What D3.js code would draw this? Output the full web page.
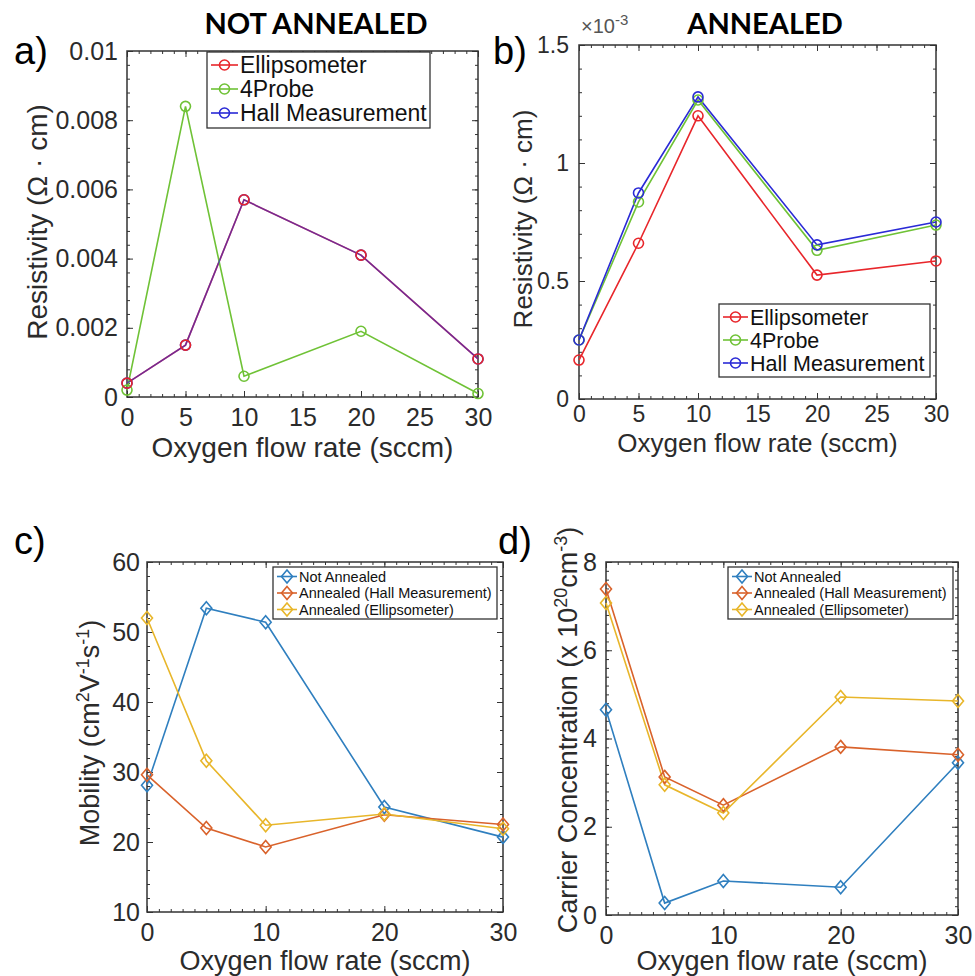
<!DOCTYPE html>
<html>
<head>
  <meta charset="utf-8">
  <script src="https://cdn.jsdelivr.net/npm/d3@7/dist/d3.min.js"></script>
  <style>
    body { margin: 0; background: #fff; }
    text { font-family: "Liberation Sans", Arial, sans-serif; }
    .tick line { stroke: #333; stroke-width: 1; }
    .tick text { fill: #2b2b2b; }
    .domain { display: none; }
    .title { font-family: Lato, "Open Sans", sans-serif; font-weight: bold; font-size: 29px; fill: #000; }
  </style>
</head>
<body>
  <svg id="chart" width="975" height="976"></svg>
  <script>
    // x values shared by all panels
    var flow = [0, 5, 10, 20, 30];

    // a) resistivity, not annealed (ohm cm)
    var resNotEllip = [0.0004, 0.0015, 0.0057, 0.0041, 0.0011];
    var resNotProbe = [0.0002, 0.0084, 0.0006, 0.0019, 0.0001];
    var resNotHall = [0.0004, 0.0015, 0.0057, 0.0041, 0.0011];

    // b) resistivity, annealed (x 10^-3 ohm cm)
    var resAnnEllip = [0.165, 0.66, 1.20, 0.525, 0.585];
    var resAnnProbe = [0.25, 0.835, 1.267, 0.63, 0.737];
    var resAnnHall = [0.25, 0.873, 1.28, 0.653, 0.75];

    // c) mobility (cm2/Vs)
    var mobNot = [28.1, 53.4, 51.4, 25.0, 20.7];
    var mobAnnHall = [29.6, 22.0, 19.3, 23.9, 22.5];
    var mobAnnEllip = [52.0, 31.6, 22.4, 24.0, 21.9];

    // d) carrier concentration (x 10^20 cm-3)
    var carNot = [4.65, 0.27, 0.77, 0.63, 3.45];
    var carAnnHall = [7.39, 3.13, 2.49, 3.81, 3.63];
    var carAnnEllip = [7.07, 2.95, 2.31, 4.94, 4.85];

    var resNames = ['Ellipsometer', '4Probe', 'Hall Measurement'];
    var carNames = ['Not Annealed', 'Annealed (Hall Measurement)', 'Annealed (Ellipsometer)'];

    // tick values / labels
    var xTicksAB = [0, 5, 10, 15, 20, 25, 30];
    var xTicksCD = [0, 10, 20, 30];
    var yTicksA = [0, 0.002, 0.004, 0.006, 0.008, 0.01];
    var yLabelsA = ['0', '0.002', '0.004', '0.006', '0.008', '0.01'];
    var yTicksB = [0, 0.5, 1, 1.5];
    var yLabelsB = ['0', '0.5', '1', '1.5'];
    var yTicksC = [10, 20, 30, 40, 50, 60];
    var yTicksD = [0, 2, 4, 6, 8];

    var rgb3 = ['#e8262b', '#6fc236', '#2a2ad6'];
    var matlab3 = ['#2f7fbf', '#d9622b', '#e8b62a'];

    var svg = d3.select('#chart');

    function diamond(r) {
      return 'M0,' + (-r - 1) + 'L' + r + ',0L0,' + (r + 1) + 'L' + (-r) + ',0Z';
    }

    function drawMarker(sel, kind, color) {
      if (kind == 'o') {
        sel.append('circle').attr('r', 5).attr('fill', 'none')
          .attr('stroke', color).attr('stroke-width', 1.6);
      } else {
        sel.append('path').attr('d', diamond(5.5)).attr('fill', 'none')
          .attr('stroke', color).attr('stroke-width', 1.6);
      }
    }

    function panel(c) {
      var g = svg.append('g');
      var x = d3.scaleLinear().domain([0, 30]).range([c.left, c.right]);
      var y = d3.scaleLinear().domain(c.yDomain).range([c.bottom, c.top]);

      var minorX = d3.range(0, 30.001, 1);
      var minorY = d3.range(c.yDomain[0], c.yDomain[1] + 1e-9, c.yMinor);
      var fs = c.tickFont + 'px';

      // major ticks with labels
      g.append('g').attr('transform', 'translate(0,' + c.bottom + ')')
        .call(d3.axisBottom(x).tickValues(c.xTicks).tickSize(-6).tickPadding(c.xPad).tickFormat(d3.format('d')))
        .selectAll('text').style('font-size', fs);
      g.append('g').attr('transform', 'translate(' + c.left + ',0)')
        .call(d3.axisLeft(y).tickValues(c.yTicks).tickSize(-6).tickPadding(c.yPad)
          .tickFormat(function (d, i) { return c.yLabels ? c.yLabels[i] : d; }))
        .selectAll('text').style('font-size', fs);
      g.append('g').attr('transform', 'translate(0,' + c.top + ')')
        .call(d3.axisTop(x).tickValues(c.xTicks).tickSize(-6).tickFormat(''));
      g.append('g').attr('transform', 'translate(' + c.right + ',0)')
        .call(d3.axisRight(y).tickValues(c.yTicks).tickSize(-6).tickFormat(''));

      // minor ticks
      g.append('g').attr('transform', 'translate(0,' + c.bottom + ')')
        .call(d3.axisBottom(x).tickValues(minorX).tickSize(-3).tickFormat(''));
      g.append('g').attr('transform', 'translate(0,' + c.top + ')')
        .call(d3.axisTop(x).tickValues(minorX).tickSize(-3).tickFormat(''));
      g.append('g').attr('transform', 'translate(' + c.left + ',0)')
        .call(d3.axisLeft(y).tickValues(minorY).tickSize(-3).tickFormat(''));
      g.append('g').attr('transform', 'translate(' + c.right + ',0)')
        .call(d3.axisRight(y).tickValues(minorY).tickSize(-3).tickFormat(''));

      g.append('rect')
        .attr('x', c.left).attr('y', c.top)
        .attr('width', c.right - c.left).attr('height', c.bottom - c.top)
        .attr('fill', 'none').attr('stroke', '#333').attr('stroke-width', 1.5);

      var line = d3.line().x(function (d, i) { return x(flow[i]); }).y(function (d) { return y(d); });

      c.series.forEach(function (s, k) {
        g.append('path').datum(s)
          .attr('d', line).attr('fill', 'none')
          .attr('stroke', c.colors[k]).attr('stroke-width', 1.6)
          .attr('stroke-opacity', c.lineOpacity ? c.lineOpacity[k] : 1);
      });
      c.markerOrder.forEach(function (k) {
        c.series[k].forEach(function (v, i) {
          var m = g.append('g').attr('transform', 'translate(' + x(flow[i]) + ',' + y(v) + ')');
          drawMarker(m, c.marker, c.colors[k]);
        });
      });

      // legend
      var L = c.legend;
      g.append('rect').attr('x', L.x).attr('y', L.y).attr('width', L.w).attr('height', L.h)
        .attr('fill', '#fff').attr('stroke', '#333').attr('stroke-width', 1.3);
      c.names.forEach(function (n, k) {
        var ry = L.y + L.first + k * L.step;
        g.append('line').attr('x1', L.x + 4).attr('x2', L.x + 4 + L.sample)
          .attr('y1', ry).attr('y2', ry).attr('stroke', c.colors[k]).attr('stroke-width', 1.6);
        var m = g.append('g').attr('transform', 'translate(' + (L.x + 4 + L.sample / 2) + ',' + ry + ')');
        drawMarker(m, c.marker, c.colors[k]);
        g.append('text').attr('x', L.x + 6 + L.sample).attr('y', ry)
          .attr('dy', '0.36em').style('font-size', L.font + 'px').attr('fill', '#111').text(n);
      });

      // labels
      g.append('text').attr('x', (c.left + c.right) / 2).attr('y', c.xLabelY)
        .attr('text-anchor', 'middle').style('font-size', c.labelFont + 'px').attr('fill', '#2b2b2b')
        .text('Oxygen flow rate (sccm)');
      var yl = g.append('text')
        .attr('transform', 'translate(' + c.yLabelX + ',' + c.yLabelY + ') rotate(-90)')
        .attr('text-anchor', 'middle').style('font-size', c.labelFont + 'px').attr('fill', '#2b2b2b');
      c.yLabel.forEach(function (p) {
        var t = yl.append('tspan').text(p[0]);
        if (p[1] == 'sup') t.attr('baseline-shift', 'super').style('font-size', '18px');
      });

      svg.append('text').attr('x', c.tagX).attr('y', c.tagY)
        .style('font-size', '38px').attr('fill', '#000').text(c.tag);
    }

    panel({
      left: 127, right: 478, top: 51, bottom: 397,
      yDomain: [0, 0.01], yMinor: 0.0004, xTicks: xTicksAB, yTicks: yTicksA, yLabels: yLabelsA,
      tickFont: 25, xPad: 11, yPad: 9, labelFont: 28,
      series: [resNotEllip, resNotProbe, resNotHall], colors: rgb3, lineOpacity: [1, 1, 0.6],
      marker: 'o', markerOrder: [2, 1, 0], names: resNames,
      legend: { x: 207, y: 52, w: 223, h: 76, first: 13, step: 24, sample: 27, font: 23 },
      xLabelY: 457, yLabelX: 47, yLabelY: 222,
      yLabel: [['Resistivity (\u03A9 \u00B7 cm)']],
      tag: 'a)', tagX: 14, tagY: 64
    });

    panel({
      left: 579, right: 936, top: 45, bottom: 399,
      yDomain: [0, 1.5], yMinor: 0.1, xTicks: xTicksAB, yTicks: yTicksB, yLabels: yLabelsB,
      tickFont: 23, xPad: 7, yPad: 10, labelFont: 26,
      series: [resAnnEllip, resAnnProbe, resAnnHall], colors: rgb3,
      marker: 'o', markerOrder: [0, 1, 2], names: resNames,
      legend: { x: 719, y: 304, w: 211, h: 73, first: 13, step: 23, sample: 25, font: 21.5 },
      xLabelY: 452, yLabelX: 532, yLabelY: 219,
      yLabel: [['Resistivity (\u03A9 \u00B7 cm)']],
      tag: 'b)', tagX: 493, tagY: 64
    });

    panel({
      left: 147, right: 503, top: 562, bottom: 912,
      yDomain: [10, 60], yMinor: 2, xTicks: xTicksCD, yTicks: yTicksC,
      tickFont: 25, xPad: 11, yPad: 7, labelFont: 27,
      series: [mobNot, mobAnnHall, mobAnnEllip], colors: matlab3,
      marker: 'd', markerOrder: [0, 1, 2], names: carNames,
      legend: { x: 273, y: 567, w: 224, h: 52, first: 9.5, step: 16.5, sample: 20, font: 14.5 },
      xLabelY: 970, yLabelX: 99, yLabelY: 733,
      yLabel: [['Mobility (cm'], ['2', 'sup'], ['V'], ['-1', 'sup'], ['s'], ['-1', 'sup'], [')']],
      tag: 'c)', tagX: 14, tagY: 554
    });

    panel({
      left: 606, right: 958, top: 562, bottom: 915,
      yDomain: [0, 8], yMinor: 0.2, xTicks: xTicksCD, yTicks: yTicksD,
      tickFont: 25, xPad: 11, yPad: 9, labelFont: 27,
      series: [carNot, carAnnHall, carAnnEllip], colors: matlab3,
      marker: 'd', markerOrder: [0, 1, 2], names: carNames,
      legend: { x: 728, y: 567, w: 225, h: 52, first: 9.5, step: 16.5, sample: 20, font: 14.5 },
      xLabelY: 970, yLabelX: 577, yLabelY: 730,
      yLabel: [['Carrier Concentration (x 10'], ['20', 'sup'], ['cm'], ['-3', 'sup'], [')']],
      tag: 'd)', tagX: 498, tagY: 554
    });

    // panel titles and exponent note
    svg.append('text').attr('class', 'title').attr('x', 316).attr('y', 34)
      .attr('text-anchor', 'middle').text('NOT ANNEALED');
    svg.append('text').attr('class', 'title').attr('x', 765).attr('y', 34)
      .attr('text-anchor', 'middle').text('ANNEALED');
    var ex = svg.append('text').attr('x', 581).attr('y', 33).style('font-size', '20px').attr('fill', '#555');
    ex.append('tspan').text('\u00D710');
    ex.append('tspan').attr('baseline-shift', 'super').style('font-size', '15px').text('-3');
  </script>
</body>
</html>
